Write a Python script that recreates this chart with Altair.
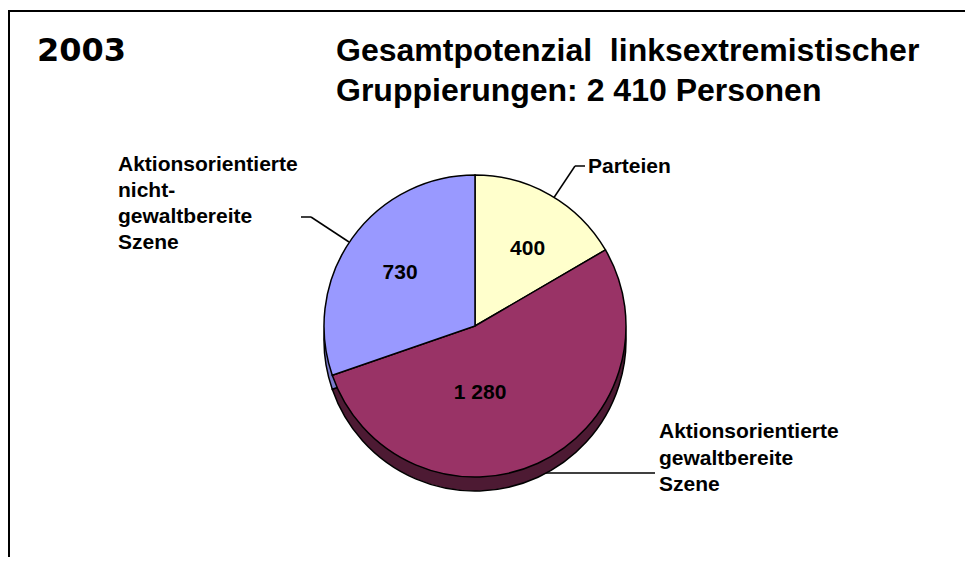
import altair as alt
import pandas as pd

# ---- data ----
categories = ["Parteien",
              "Aktionsorientierte gewaltbereite Szene",
              "Aktionsorientierte nicht-gewaltbereite Szene"]
values = [400, 1280, 730]
value_labels = ["400", "1 280", "730"]

year_text = "2003"
title_lines = ["Gesamtpotenzial\u00a0 linksextremistischer",
               "Gruppierungen: 2 410 Personen"]
label_parteien = ["Parteien"]
label_nicht = ["Aktionsorientierte", "nicht-", "gewaltbereite", "Szene"]
label_gewalt = ["Aktionsorientierte", "gewaltbereite", "Szene"]

# ---- styles ----
face_colors = ["#FFFFCC", "#993366", "#9999FF"]
side_colors = ["#80806A", "#4D1A33", "#7A7ACC"]
FONT = "Liberation Sans"
CX, CY, R, DEPTH = 467, 318, 151, 14

df = pd.DataFrame({"category": categories, "value": values,
                   "label": value_labels, "idx": list(range(len(values)))})
one = pd.DataFrame({"k": [0]})

base = alt.Chart(df).encode(
    theta=alt.Theta("value:Q", stack=True),
    order=alt.Order("idx:Q"),
)

side = base.mark_arc(radius=R, stroke="black", strokeWidth=1.5).encode(
    color=alt.Color("category:N", scale=alt.Scale(domain=categories, range=side_colors), legend=None),
    x=alt.value(CX), y=alt.value(CY + DEPTH),
)
face = base.mark_arc(radius=R, stroke="black", strokeWidth=1.5).encode(
    color=alt.Color("category:N", scale=alt.Scale(domain=categories, range=face_colors), legend=None),
    x=alt.value(CX), y=alt.value(CY),
)

txt_style = dict(font=FONT, fontSize=21, fontWeight="bold", color="black",
                 align="center", baseline="middle")


def slice_label(i, radius, offset):
    return base.mark_text(radius=radius, thetaOffset=offset, **txt_style).encode(
        text=alt.condition(f"datum.idx == {i}", alt.Text("label:N"), alt.value("")),
        x=alt.value(CX), y=alt.value(CY),
    )


labels = [slice_label(0, 93, 0.08), slice_label(1, 67, 0.354), slice_label(2, 92, 0.0)]


def rule(x1, y1, x2, y2, w=1.5):
    return alt.Chart(one).mark_rule(color="black", strokeWidth=w).encode(
        x=alt.value(x1), y=alt.value(y1), x2=alt.value(x2), y2=alt.value(y2))


def text(lines, x, y, size, font=FONT, lh=26):
    return alt.Chart(one).mark_text(
        font=font, fontSize=size, fontWeight="bold", color="black",
        align="left", baseline="alphabetic", lineBreak="\n", lineHeight=lh,
    ).encode(text=alt.value("\n".join(lines)), x=alt.value(x), y=alt.value(y))


frame = [rule(0, 3, 970, 3, 2), rule(1, 2, 1, 560, 2)]
leaders = [
    rule(545, 191, 567, 158), rule(567, 158, 577, 158),
    rule(293, 209, 303, 209), rule(303, 209, 341, 234),
    rule(535, 465, 647, 465),
]
texts = [
    text([year_text], 29, 53, 32, font="DejaVu Sans"),
    text(title_lines, 328, 53, 32, lh=40),
    text(label_parteien, 580, 165, 21),
    text(label_nicht, 110, 163, 21, lh=26),
    text(label_gewalt, 651, 430, 21, lh=26.5),
]

chart = alt.layer(*frame, *leaders, side, face, *labels, *texts).resolve_scale(
    color="independent"
).properties(
    width=957, height=549, padding=0, autosize="none"
).configure_view(stroke=None)

chart.save("out.html", embed_options={"renderer": "svg", "actions": False})
